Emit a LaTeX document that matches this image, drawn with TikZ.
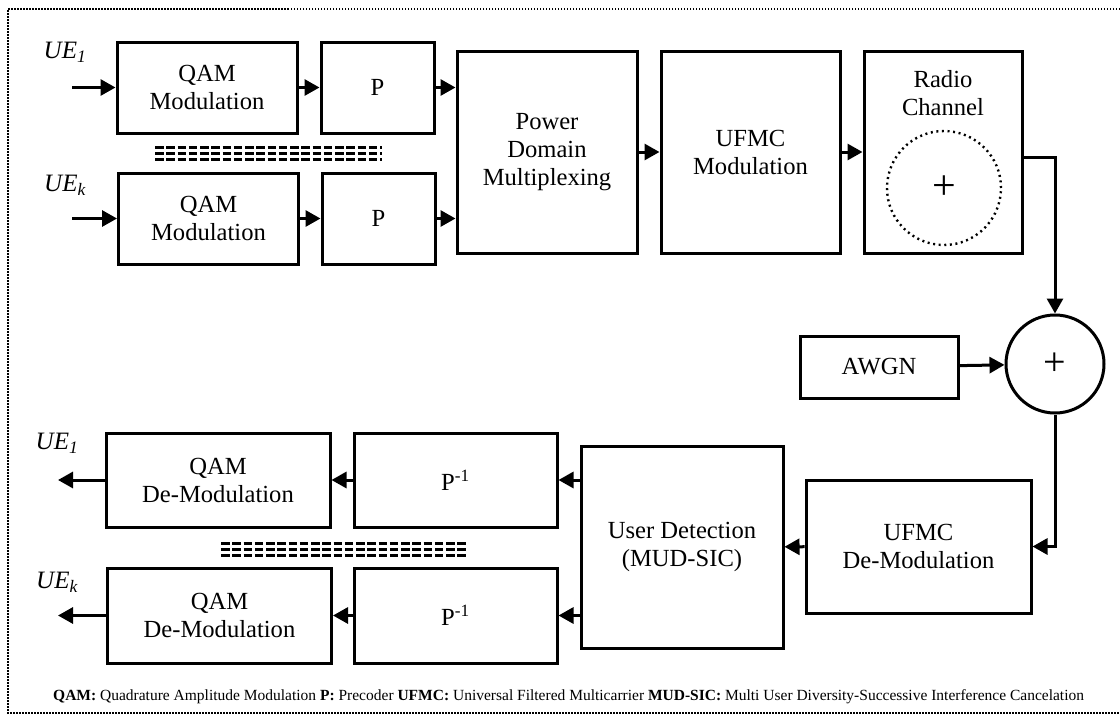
\documentclass[tikz,border=0pt]{standalone}
\usepackage{fontspec}
\setmainfont{Liberation Serif}
\usetikzlibrary{arrows.meta}
\tikzset{
  blktext/.style={align=center, inner sep=0pt, font=\fontsize{24.6}{28}\selectfont},
  blk/.style={blktext, draw, line width=3pt},
  sumnode/.style={draw, circle, line width=3pt, minimum size=98pt, inner sep=0pt,
    font=\fontsize{40}{40}\selectfont},
  noisering/.style={draw, circle, line width=2.4pt, dash pattern=on 2pt off 3.6pt,
    minimum size=114pt, inner sep=0pt, font=\fontsize{42}{42}\selectfont},
  uetag/.style={inner sep=0pt, font=\fontsize{25}{28}\selectfont\itshape},
  sig/.style={-{Triangle[length=15pt,width=16pt]}, line width=3pt},
  gapline/.style={line width=3pt, dash pattern=on 8.5pt off 2.75pt},
  framing/.style={line width=1.8pt, dash pattern=on 1.5pt off 1.5pt},
  note/.style={inner sep=0pt, font=\fontsize{15.5}{18}\selectfont}
}
\begin{document}
\begin{tikzpicture}[x=1pt, y=-1pt]
  \useasboundingbox (0,0) rectangle (1120,715);
  \draw[framing] (1120,9) -- (8,9) -- (8,713) -- (1120,713);

  \node[blk, minimum width=180pt, minimum height=91pt] (qam1) at (207,87.5) {QAM\\Modulation};
  \node[blk, minimum width=113pt, minimum height=91pt] (p1) at (377.5,87.5) {P};
  \node[blk, minimum width=180pt, minimum height=91pt] (qamk) at (208.5,218.5) {QAM\\Modulation};
  \node[blk, minimum width=113pt, minimum height=91pt] (pk) at (378.5,218.5) {P};
  \node[blk, minimum width=180pt, minimum height=202pt] (pdm) at (547,152) {Power\\Domain\\Multiplexing};
  \node[blk, minimum width=179pt, minimum height=202pt] (ufmc) at (750.5,152) {UFMC\\Modulation};
  \node[blk, minimum width=158pt, minimum height=202pt] (radio) at (943,152) {};
  \node[blktext] (radiotxt) at (943,93) {Radio\\Channel};
  \node[noisering] (noise) at (944,188) {+};
  \node[sumnode] (sum) at (1055,364) {+};
  \node[blk, minimum width=158pt, minimum height=62pt] (awgn) at (879,367) {AWGN};
  \node[blk, minimum width=225pt, minimum height=133pt] (ufmcde) at (918.5,546.5) {UFMC\\De-Modulation};
  \node[blk, minimum width=202pt, minimum height=202pt] (ud) at (682,547) {User Detection\\(MUD-SIC)};
  \node[blk, minimum width=203pt, minimum height=94pt] (pinv1) at (455.5,480) {P\textsuperscript{-1}};
  \node[blk, minimum width=203pt, minimum height=95pt] (pinvk) at (455.5,615.5) {P\textsuperscript{-1}};
  \node[blk, minimum width=224pt, minimum height=94pt] (qamde1) at (218,480) {QAM\\De-Modulation};
  \node[blk, minimum width=224pt, minimum height=95pt] (qamdek) at (219.5,615.5) {QAM\\De-Modulation};

  \node[uetag] (ue1in) at (65,52) {UE\textsubscript{1}};
  \node[uetag] (uekin) at (65,185) {UE\textsubscript{k}};
  \node[uetag] (ue1out) at (57,443) {UE\textsubscript{1}};
  \node[uetag] (uekout) at (57,582) {UE\textsubscript{k}};

  \coordinate (in1) at (72,87.5);
  \coordinate (ink) at (72,218.5);
  \coordinate (out1) at (58,480);
  \coordinate (outk) at (58,615.5);

  \draw[sig] (in1) -- (qam1.west);
  \draw[sig] (ink) -- (qamk.west);
  \draw[sig] (qam1) -- (p1);
  \draw[sig] (qamk) -- (pk);
  \draw[sig] (p1.east) -- (p1.east -| pdm.west);
  \draw[sig] (pk.east) -- (pk.east -| pdm.west);
  \draw[sig] (pdm) -- (ufmc);
  \draw[sig] (ufmc) -- (radio);
  \draw[sig] ([yshift=-5pt]radio.east) -| (sum.north);
  \draw[sig] (awgn) -- (sum);
  \draw[sig] (sum.south) |- (ufmcde.east);
  \draw[sig] (ufmcde) -- (ud);
  \draw[sig] (ud.west |- pinv1.east) -- (pinv1.east);
  \draw[sig] (ud.west |- pinvk.east) -- (pinvk.east);
  \draw[sig] (pinv1) -- (qamde1);
  \draw[sig] (pinvk) -- (qamdek);
  \draw[sig] (qamde1.west) -- (out1);
  \draw[sig] (qamdek.west) -- (outk);

  \foreach \dy in {147,153,159}
    \draw[gapline] (155,\dy) -- (382,\dy);
  \foreach \dy in {543,549,555}
    \draw[gapline] (221,\dy) -- (468,\dy);

  \node[note, anchor=west] (legend) at (53,697) {\textbf{QAM:} Quadrature Amplitude Modulation \textbf{P:} Precoder \textbf{UFMC:} Universal Filtered Multicarrier \textbf{MUD-SIC:} Multi User Diversity-Successive Interference Cancelation};
\end{tikzpicture}
\end{document}
